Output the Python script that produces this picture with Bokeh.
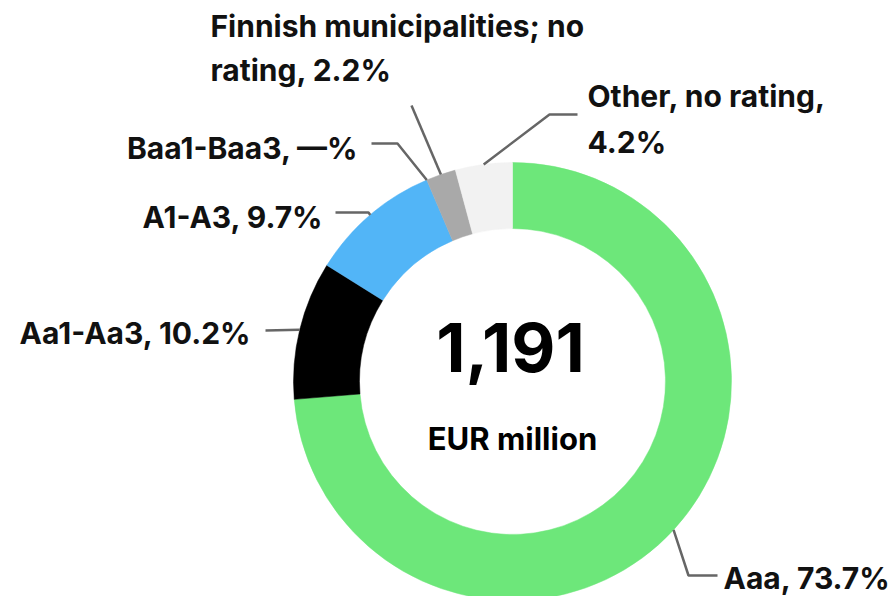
import math
from bokeh.plotting import figure
from bokeh.models import Range1d, ColumnDataSource
from bokeh.core.properties import value
from bokeh.embed import file_html
from bokeh.resources import INLINE

# ---- data ----
categories = ["Aaa", "Aa1-Aa3", "A1-A3", "Baa1-Baa3",
              "Finnish municipalities; no rating", "Other, no rating"]
shares = [73.7, 10.2, 9.7, 0.0, 2.2, 4.2]
share_labels = ["73.7%", "10.2%", "9.7%", "—%", "2.2%", "4.2%"]
colors = ["#6DE77A", "#000000", "#52B5F7", "#8C8C8C", "#A9A9A9", "#F2F2F2"]
total_text = "1,191"
unit_text = "EUR million"

# ---- layout ----
W, H = 896, 596
OX, OY = 0, 0   # page offset of the figure in the screenshot
FONT = "Inter"
LINE_COLOR = "#666666"


def px(x, y):
    """screenshot pixel -> data coords"""
    return x - OX, (H + OY) - y


cx, cy = px(512, 381)
R_OUT, R_IN = 219, 153

p = figure(width=W, height=H, output_backend="svg", toolbar_location=None,
           x_range=Range1d(0, W), y_range=Range1d(0, H),
           min_border=0, outline_line_color=None)
p.axis.visible = False
p.grid.visible = False
p.background_fill_color = "white"
p.border_fill_color = "white"

# wedges
tot = sum(shares)
starts, ends, mids = [], [], []
acc = 0.0
for s in shares:
    a0 = math.pi / 2 - 2 * math.pi * acc / tot
    acc += s
    a1 = math.pi / 2 - 2 * math.pi * acc / tot
    starts.append(a0)
    ends.append(a1)
    mids.append((a0 + a1) / 2)

keep = [i for i, s in enumerate(shares) if s > 0]
src = ColumnDataSource(dict(
    start=[starts[i] for i in keep], end=[ends[i] for i in keep],
    color=[colors[i] for i in keep]))
p.annular_wedge(x=cx, y=cy, inner_radius=R_IN, outer_radius=R_OUT,
                start_angle="start", end_angle="end", direction="clock",
                fill_color="color", line_color="color", line_width=0.5,
                source=src)

# leader lines: start at mid-angle on the outer edge, then elbow points (px)
elbows = [
    [(688, 575), (717, 575)],
    [(265, 330)],
    [(368, 212), (335, 212)],
    [(397, 143), (371, 143)],
    [(411, 105)],
    [(549, 114), (577, 114)],
]
for i, pts in enumerate(elbows):
    xs = [cx + R_OUT * math.cos(mids[i])]
    ys = [cy + R_OUT * math.sin(mids[i])]
    for (ex, ey) in pts:
        dx, dy = px(ex, ey)
        xs.append(dx)
        ys.append(dy)
    p.line(xs, ys, line_color=LINE_COLOR, line_width=2.5)

# labels: (lines, anchor x, first-line y, line gap, align)
label_specs = [
    ([f"{categories[0]}, {share_labels[0]}"], 723, 577, 0, "left"),
    ([f"{categories[1]}, {share_labels[1]}"], 251, 332, 0, "right"),
    ([f"{categories[2]}, {share_labels[2]}"], 323, 216, 0, "right"),
    ([f"{categories[3]}, {share_labels[3]}"], 358, 147, 0, "right"),
    (["Finnish municipalities; no", f"rating, {share_labels[4]}"], 210, 25, 44, "left"),
    (["Other, no rating,", share_labels[5]], 587, 95, 46, "left"),
]
tx, ty, tt, ta = [], [], [], []
for lines, lx, ly, gap, al in label_specs:
    for k, ln in enumerate(lines):
        dx, dy = px(lx, ly + k * gap)
        tx.append(dx)
        ty.append(dy)
        tt.append(ln)
        ta.append(al)
p.text(x="x", y="y", text="t", text_align="a",
       source=ColumnDataSource(dict(x=tx, y=ty, t=tt, a=ta)),
       text_font=value(FONT), text_font_style="bold", text_font_size="30px",
       text_baseline="middle", text_color="#111111")

# center texts
x1, y1 = px(510, 347)
p.text(x=[x1], y=[y1], text=[total_text], text_font=value(FONT), text_font_style="bold",
       text_font_size="68px", text_align="center", text_baseline="middle", text_color="#000000")
x2, y2 = px(512, 438)
p.text(x=[x2], y=[y2], text=[unit_text], text_font=value(FONT), text_font_style="bold",
       text_font_size="31px", text_align="center", text_baseline="middle", text_color="#000000")

open("out.html", "w").write(file_html(p, INLINE))
